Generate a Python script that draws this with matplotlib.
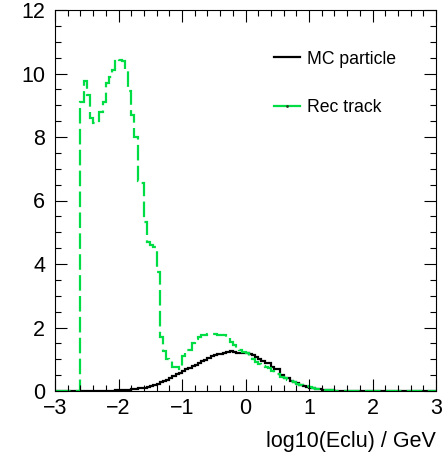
import matplotlib
matplotlib.use('Agg')
import matplotlib.pyplot as plt
from matplotlib.lines import Line2D
from matplotlib.ticker import MultipleLocator
import numpy as np

# histogram binning: 120 bins of 0.05 between -3 and 3
x_min, x_max, n_bins = -3., 3., 120

# MC particle (black), one row = 10 bins = 0.5 in log10(Eclu)
mc_particle = [
    0, 0, 0, 0, 0, 0, 0, 0, 0, 0,
    0, 0, 0, 0, 0.01, 0.01, 0.01, 0.01, 0.01, 0.02,
    0.02, 0.03, 0.03, 0.03, 0.05, 0.07, 0.08, 0.08, 0.10, 0.12,
    0.15, 0.18, 0.22, 0.27, 0.31, 0.36, 0.42, 0.47, 0.52, 0.58,
    0.63, 0.68, 0.73, 0.78, 0.83, 0.88, 0.93, 0.99, 1.05, 1.10,
    1.13, 1.17, 1.17, 1.20, 1.24, 1.26, 1.22, 1.20, 1.20, 1.19,
    1.20, 1.16, 1.12, 1.06, 1.00, 0.95, 0.88, 0.87, 0.75, 0.70,
    0.69, 0.50, 0.42, 0.40, 0.33, 0.29, 0.26, 0.20, 0.17, 0.12,
    0.08, 0.08, 0.07, 0.06, 0.04, 0.03, 0.03, 0.02, 0.01, 0,
    0, 0, 0, 0, 0, 0, 0, 0, 0, 0,
    0, 0, 0, 0, 0, 0, 0, 0, 0, 0,
    0, 0, 0, 0, 0, 0, 0, 0, 0, 0,
]

# Rec track (green)
rec_track = [
    0, 0, 0, 0, 0, 0, 0, 0, 9.1, 9.76,
    9.32, 8.6, 8.43, 8.43, 8.8, 9.1, 9.7, 9.9, 10.1, 10.47,
    10.42, 10.38, 10.09, 9.45, 8.7, 8.0, 6.6, 6.55, 5.33, 4.7,
    4.6, 4.55, 3.75, 1.71, 1.25, 1.0, 0.98, 0.77, 0.75, 0.68,
    1.1, 1.29, 1.3, 1.52, 1.65, 1.7, 1.76, 1.77, 1.78, 1.78,
    1.78, 1.77, 1.77, 1.76, 1.68, 1.55, 1.45, 1.34, 1.29, 1.22,
    1.2, 1.1, 1.0, 0.92, 0.85, 0.79, 0.77, 0.72, 0.62, 0.58,
    0.53, 0.45, 0.4, 0.36, 0.3, 0.28, 0.22, 0.2, 0.17, 0.15,
    0.12, 0.08, 0.07, 0.06, 0.05, 0.04, 0.03, 0.02, 0.01, 0,
    0, 0, 0, 0, 0, 0, 0, 0, 0, 0,
    0, 0, 0, 0, 0, 0, 0, 0, 0, 0,
    0, 0, 0, 0, 0, 0, 0, 0, 0, 0,
]

labels = ['MC particle', 'Rec track']
x_title = 'log10(Eclu) / GeV'
green = '#00dd44'

plt.rcParams['font.family'] = ['Liberation Sans', 'DejaVu Sans']

fig = plt.figure(figsize=(4.46, 4.58), dpi=100)
ax = fig.add_axes([55 / 446., 67 / 458., 381 / 446., 381 / 458.])

edges = np.linspace(x_min, x_max, n_bins + 1)
ax.stairs(mc_particle, edges, color='black', lw=1.6, baseline=0)
ax.stairs(rec_track, edges, color=green, lw=1.6, baseline=0,
          linestyle=(0, (7, 2.4)))

ax.set_xlim(x_min, x_max)
ax.set_ylim(0, 12)

ax.xaxis.set_major_locator(MultipleLocator(1))
ax.xaxis.set_minor_locator(MultipleLocator(0.2))
ax.yaxis.set_major_locator(MultipleLocator(2))
ax.yaxis.set_minor_locator(MultipleLocator(0.5))
ax.tick_params(which='both', direction='in', top=True, right=True, width=0.8)
ax.tick_params(which='major', length=8.5, labelsize=15.5)
ax.tick_params(axis='x', which='major', pad=5)
ax.tick_params(axis='y', which='major', pad=7)
ax.tick_params(which='minor', length=4.3)
for s in ax.spines.values():
    s.set_linewidth(0.8)

ax.set_xlabel(x_title, fontsize=15.5, loc='right', labelpad=9)

handles = [Line2D([], [], color='black', lw=1.6),
           Line2D([], [], color=green, lw=1.6, marker='.', markersize=2,
                  markerfacecolor='#224422', markeredgecolor='#224422')]
ax.legend(handles, labels, loc='upper left', bbox_to_anchor=(0.555, 0.912),
          frameon=False, fontsize=12.7, handlelength=1.5, handletextpad=0.4,
          labelspacing=1.8, borderaxespad=0)

fig.savefig('out.png', dpi=100)
